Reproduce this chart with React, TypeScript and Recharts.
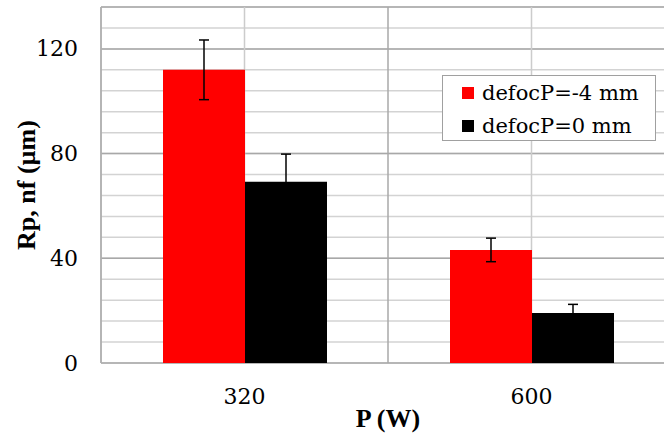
import React from 'react';
import { BarChart, Bar, XAxis, YAxis, CartesianGrid, ErrorBar, Label } from 'recharts';

// P (W) categories
const powers = ['320', '600'];
const seriesNames = ['defocP=-4 mm', 'defocP=0 mm'];
const seriesColors = ['#ff0000', '#000000'];

// Rp, nf (µm), with their error bars
const rpDefocMinus4 = [112, 43.2];
const rpDefocMinus4Err = [11.4, 4.5];
const rpDefoc0 = [69.2, 19.1];
const rpDefoc0Err = [10.6, 3.3];

const yTicks = [0, 40, 80, 120];
const yMinorTicks = [0, 8, 16, 24, 32, 40, 48, 56, 64, 72, 80, 88, 96, 104, 112, 120, 128, 136];
const yMax = 136;

const data = powers.map((p, i) => ({
  power: p,
  m4: rpDefocMinus4[i],
  m4Err: rpDefocMinus4Err[i],
  z0: rpDefoc0[i],
  z0Err: rpDefoc0Err[i],
}));

const FONT = "'Liberation Serif', 'Times New Roman', serif";
const FONT_REG = "'DejaVu Serif', serif";

// category boundaries: left edge of each band plus the right edge
const edgeLines = ({ offset }: any) =>
  Array.from({ length: powers.length + 1 }, (_, i) => offset.left + (i * offset.width) / powers.length);

const YTitle = (props: any) => {
  const vb = props.viewBox || {};
  const cx = vb.x + 26;
  const cy = vb.y + vb.height / 2;
  return (
    <text
      x={cx}
      y={cy}
      transform={`rotate(-90 ${cx} ${cy})`}
      textAnchor="middle"
      dominantBaseline="central"
      style={{ fontFamily: FONT, fontWeight: 'bold', fontSize: 26 }}
      fill="#000"
    >
      Rp, nf (µm)
    </text>
  );
};

const XTitle = (props: any) => {
  const vb = props.viewBox || {};
  return (
    <text
      x={vb.x + vb.width / 2}
      y={vb.y + vb.height - 10}
      textAnchor="middle"
      style={{ fontFamily: FONT, fontWeight: 'bold', fontSize: 26 }}
      fill="#000"
    >
      P (W)
    </text>
  );
};

const renderTick = (props: any) => {
  const { x, y, payload, textAnchor, verticalAnchor } = props;
  const baseline = verticalAnchor === 'start' ? 'hanging' : 'central';
  return (
    <text
      x={x}
      y={y}
      textAnchor={textAnchor}
      dominantBaseline={baseline}
      style={{ fontFamily: FONT_REG, fontSize: 22 }}
      fill="#000"
    >
      {payload.value}
    </text>
  );
};

export default function App() {
  return (
    <div
      style={{
        position: 'absolute',
        left: 0,
        top: 0,
        width: 664,
        height: 437,
        overflow: 'hidden',
        background: '#fff',
      }}
    >
      <BarChart
        width={676}
        height={437}
        data={data}
        margin={{ top: 7, right: 1, bottom: 0, left: 0 }}
        barGap={0}
        barSize={82}
      >
        <CartesianGrid
          vertical={false}
          horizontalValues={yMinorTicks}
          stroke="#d3d3d3"
          strokeWidth={1.5}
        />
        <CartesianGrid vertical={false} stroke="#a8a8a8" strokeWidth={1.5} />
        <CartesianGrid horizontal={false} stroke="#cccccc" strokeWidth={1.5} />
        <CartesianGrid
          horizontal={false}
          verticalCoordinatesGenerator={edgeLines}
          stroke="#a8a8a8"
          strokeWidth={1.5}
        />
        <XAxis
          dataKey="power"
          height={74}
          axisLine={false}
          tickLine={false}
          tickSize={0}
          tickMargin={25}
          tick={renderTick}
        >
          <Label content={XTitle} />
        </XAxis>
        <YAxis
          width={101}
          domain={[0, yMax]}
          ticks={yTicks}
          interval={0}
          axisLine={false}
          tickLine={false}
          tickSize={0}
          tickMargin={23}
          tick={renderTick}
        >
          <Label content={YTitle} />
        </YAxis>
        <Bar dataKey="m4" name={seriesNames[0]} fill={seriesColors[0]} isAnimationActive={false}>
          <ErrorBar dataKey="m4Err" stroke="#000" strokeWidth={1.5} width={5} />
        </Bar>
        <Bar dataKey="z0" name={seriesNames[1]} fill={seriesColors[1]} isAnimationActive={false}>
          <ErrorBar dataKey="z0Err" stroke="#000" strokeWidth={1.5} width={5} />
        </Bar>
      </BarChart>
      <svg
        width={214}
        height={66}
        style={{ position: 'absolute', left: 442, top: 75 }}
      >
        <rect x={0.5} y={0.5} width={213} height={65} fill="#fff" stroke="#a0a0a0" />
        {seriesNames.map((name, i) => (
          <g key={name}>
            <rect x={20} y={12 + i * 33} width={12} height={12} fill={seriesColors[i]} />
            <text
              x={40}
              y={18 + i * 33}
              dominantBaseline="central"
              style={{ fontFamily: FONT_REG, fontSize: 21 }}
              fill="#000"
            >
              {name}
            </text>
          </g>
        ))}
      </svg>
    </div>
  );
}
